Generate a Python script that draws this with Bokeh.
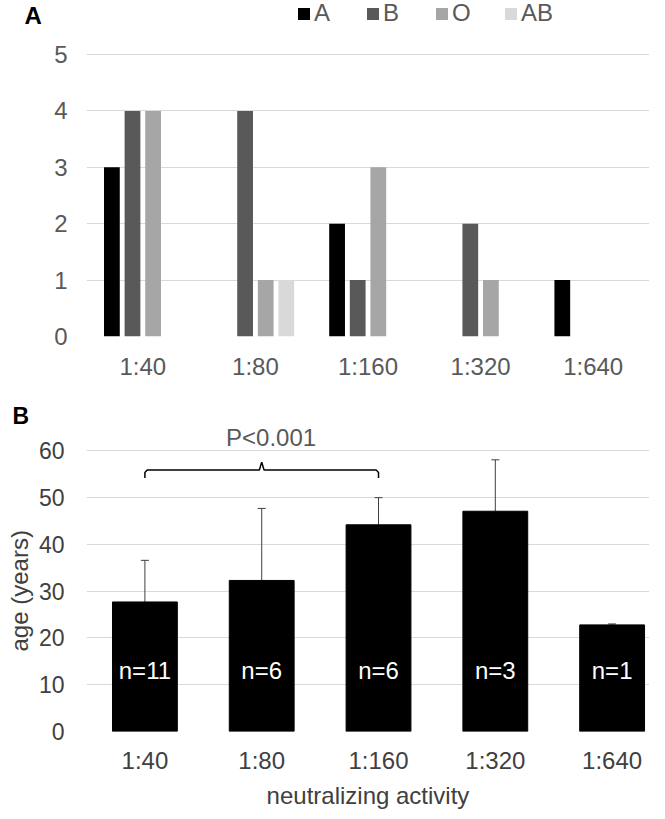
from bokeh.plotting import figure
from bokeh.models import (FactorRange, Range1d, FixedTicker, Legend, LegendItem, Label,
                          Whisker, TeeHead, ColumnDataSource, Title)
from bokeh.transform import dodge
from bokeh.layouts import column
from bokeh.embed import file_html
from bokeh.resources import INLINE
from bokeh.core.properties import value

# ---------------- data ----------------
titers = ["1:40", "1:80", "1:160", "1:320", "1:640"]
blood_groups = ["A", "B", "O", "AB"]
count_A = [3, 0, 2, 0, 1]
count_B = [4, 4, 1, 2, 0]
count_O = [4, 1, 3, 1, 0]
count_AB = [0, 1, 0, 0, 0]
group_colors = ["#000000", "#595959", "#A6A6A6", "#D9D9D9"]
ticks_a = [0, 1, 2, 3, 4, 5]

age_mean = [27.7, 32.3, 44.2, 47.1, 22.8]
age_upper = [36.6, 47.7, 50.0, 58.1, 23.0]
n_labels = ["n=11", "n=6", "n=6", "n=3", "n=1"]
ticks_b = [0, 10, 20, 30, 40, 50, 60]
p_text = "P<0.001"
x_title_b = "neutralizing activity"
y_title_b = "age (years)"

FONT = "Liberation Sans"
W = 649
HA = 395
HB = 416

# ---------------- panel A ----------------
src_a = ColumnDataSource(dict(titer=titers, A=count_A, B=count_B, O=count_O, AB=count_AB))
pa = figure(x_range=FactorRange(factors=titers), y_range=Range1d(0, 5.957),
            width=W, height=HA, output_backend="svg", toolbar_location=None,
            min_border_left=76, min_border_right=0,
            min_border_top=0, min_border_bottom=59)
pa.title.text = "A"
pa.title.align = "left"
pa.title.offset = -73
pa.title.standoff = -57
pa.title.text_font = FONT
pa.title.text_font_size = "24px"
pa.title.text_font_style = "bold"
pa.title.text_color = "#000000"
try:
    pa.title.padding = (11, 0, 0, 0)
except Exception:
    pass

slot = 0.183
items = []
for i, (g, c) in enumerate(zip(blood_groups, group_colors)):
    r = pa.vbar(x=dodge("titer", (i - 1.5) * slot, range=pa.x_range), top=g, width=0.14,
                source=src_a, fill_color=c, line_color=None)
    items.append(LegendItem(label=g, renderers=[r]))

legend = Legend(items=items, orientation="horizontal", location=(210, 309),
                glyph_width=15, glyph_height=15, label_standoff=3, spacing=31,
                padding=0, margin=0, border_line_color=None, background_fill_alpha=0,
                label_text_font=FONT, label_text_font_size="24px", label_text_color="#595959")
pa.add_layout(legend)

pa.yaxis.ticker = FixedTicker(ticks=ticks_a)
pa.ygrid.ticker = FixedTicker(ticks=ticks_a)
pa.xgrid.grid_line_color = None
pa.ygrid.grid_line_color = "#D9D9D9"
pa.outline_line_color = None
for ax in (pa.xaxis, pa.yaxis):
    ax.axis_line_color = None
    ax.major_tick_line_color = None
    ax.minor_tick_line_color = None
    ax.major_label_text_font = FONT
    ax.major_label_text_font_size = "24px"
    ax.major_label_text_color = "#595959"
pa.yaxis.major_label_standoff = 13
pa.xaxis.major_label_standoff = 10

# ---------------- panel B ----------------
xb = [i + 0.5 for i in range(len(titers))]
src_b = ColumnDataSource(dict(x=xb, mean=age_mean, upper=age_upper, n=n_labels))
pb = figure(x_range=Range1d(0, 4.82), y_range=Range1d(0, 68),
            width=W, height=HB, output_backend="svg", toolbar_location=None,
            min_border_left=76, min_border_right=0,
            min_border_top=18, min_border_bottom=76)
pb.title.text = "B"
pb.title.align = "left"
pb.title.offset = -74
pb.title.standoff = -31
pb.title.text_font = FONT
pb.title.text_font_size = "23px"
pb.title.text_font_style = "bold"
pb.title.text_color = "#000000"

pb.vbar(x="x", top="mean", width=0.555, source=src_b, fill_color="#000000", line_color="#000000")
pb.add_layout(Whisker(base="x", lower="mean", upper="upper", source=src_b, dimension="height",
                      line_color="#404040", line_width=1, lower_head=None,
                      upper_head=TeeHead(size=8, line_color="#404040", line_width=1)))
n_y = 13
pb.text(x="x", y=n_y, text="n", source=src_b, text_color="#FFFFFF",
        text_font=value(FONT), text_font_size="24px", text_align="center",
        text_baseline="middle")

# bracket between 1:40 and 1:160, tip at 1:80
br_y, br_drop, br_tip = 55.9, 1.7, 1.7
xl, xm, xr = xb[0], xb[1], xb[2]
d = 0.02
pb.line(x=[xl, xl, xl + d, xm - d, xm, xm + d, xr - d, xr, xr],
        y=[br_y - br_drop, br_y - 0.5, br_y, br_y, br_y + br_tip, br_y, br_y, br_y - 0.5, br_y - br_drop],
        line_color="#000000", line_width=1.5)
pb.add_layout(Label(x=xm + 0.08, y=62.9, text=p_text, text_font=FONT, text_font_size="24px",
                    text_color="#595959", text_align="center", text_baseline="middle"))

pb.xaxis.ticker = FixedTicker(ticks=xb)
pb.xaxis.major_label_overrides = {x: t for x, t in zip(xb, titers)}
pb.yaxis.ticker = FixedTicker(ticks=ticks_b)
pb.ygrid.ticker = FixedTicker(ticks=ticks_b)
pb.xgrid.grid_line_color = None
pb.ygrid.grid_line_color = "#D9D9D9"
pb.outline_line_color = None
for ax in (pb.xaxis, pb.yaxis):
    ax.axis_line_color = None
    ax.major_tick_line_color = None
    ax.minor_tick_line_color = None
    ax.major_label_text_font = FONT
    ax.major_label_text_color = "#404040"
pb.xaxis.major_label_text_font_size = "24px"
pb.yaxis.major_label_text_font_size = "23px"
pb.xaxis.major_label_standoff = 9
pb.yaxis.major_label_standoff = 16
pb.xaxis.axis_label = x_title_b
pb.xaxis.axis_label_text_font = FONT
pb.xaxis.axis_label_text_font_size = "24px"
pb.xaxis.axis_label_text_font_style = "normal"
pb.xaxis.axis_label_text_color = "#404040"
pb.xaxis.axis_label_standoff = 5
# y-axis title, placed along the 0-60 gridline span
pb.add_layout(Title(text=y_title_b, align="left", offset=80, standoff=6,
                    text_font=FONT, text_font_size="24px", text_font_style="normal",
                    text_color="#404040"), "left")

layout = column(pa, pb, spacing=0)
open("out.html", "w").write(file_html(layout, INLINE))
